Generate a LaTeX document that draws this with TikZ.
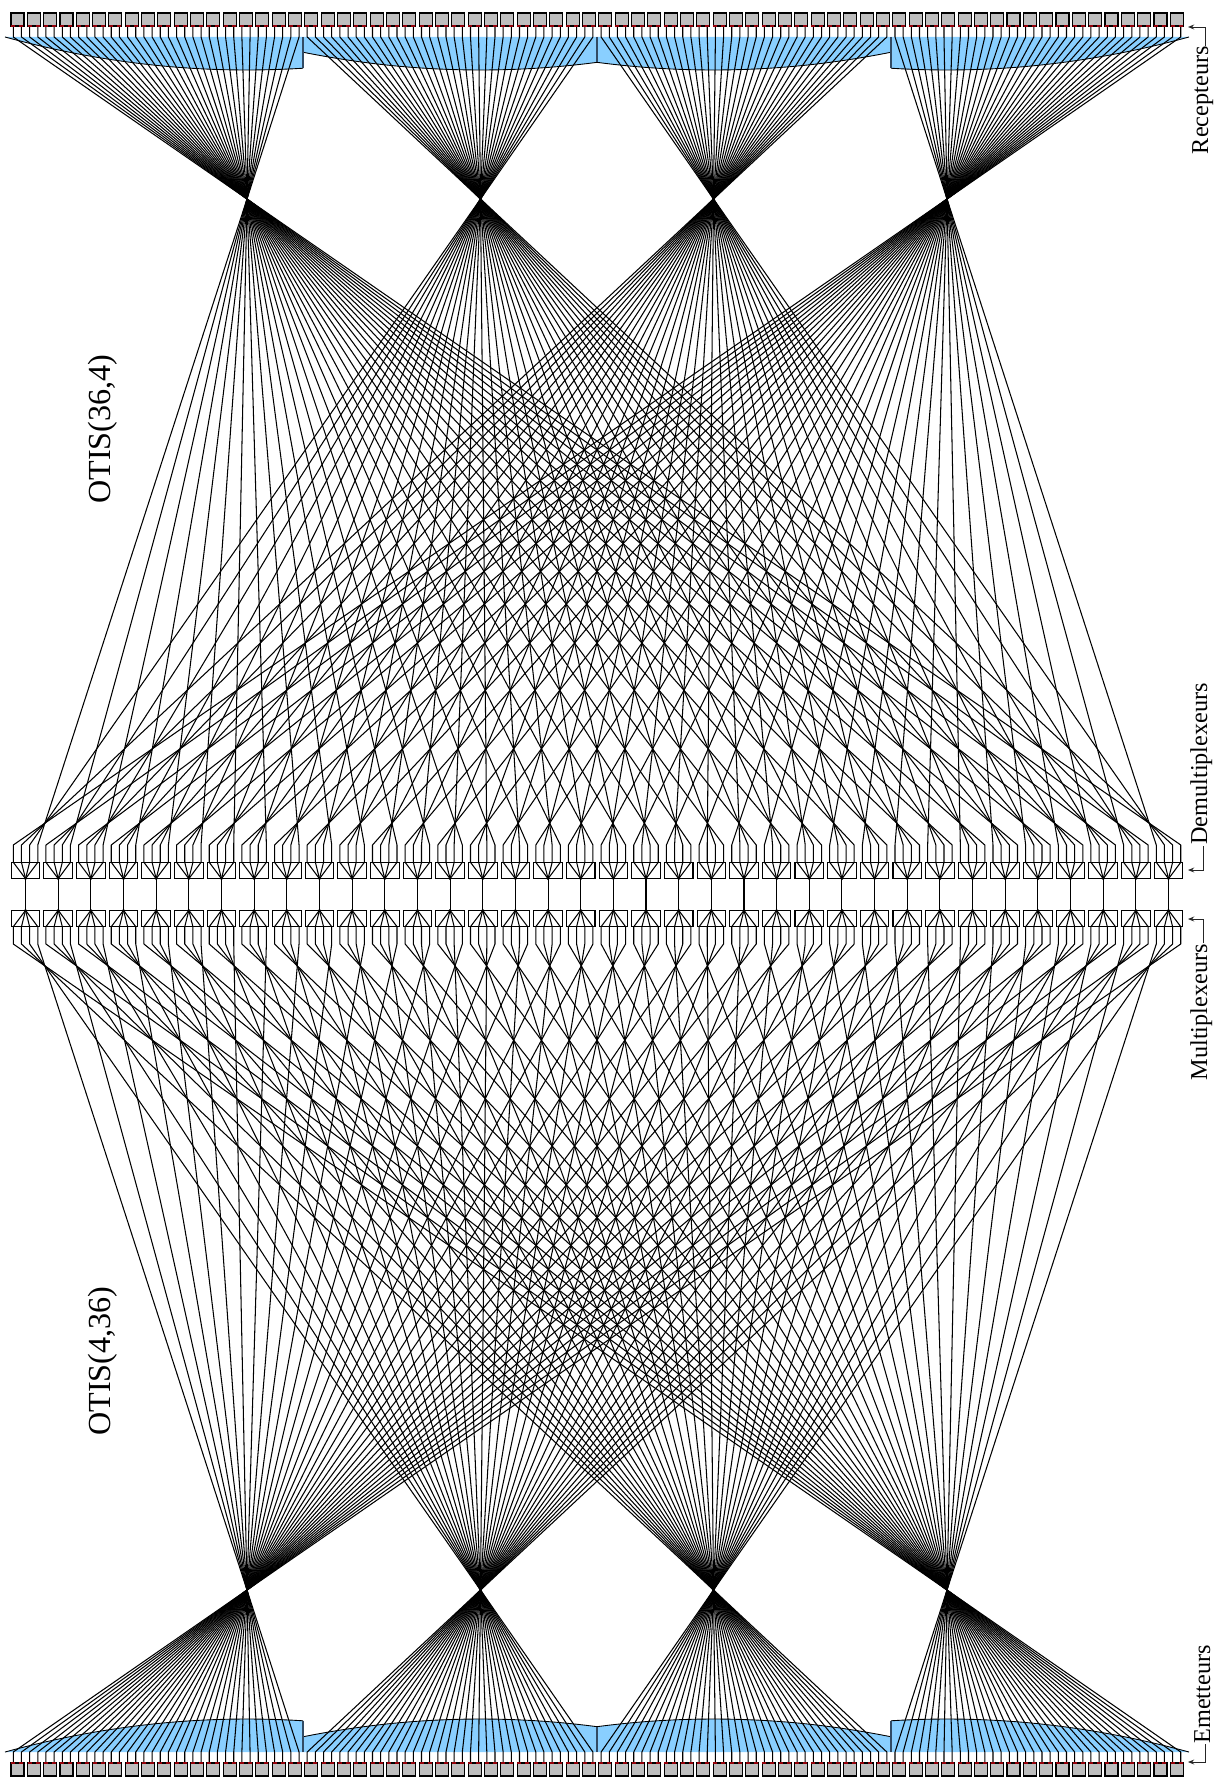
\documentclass[tikz,border=0pt]{standalone}
\usepackage{fontspec}
\setmainfont{Liberation Serif}
\usepackage{xcolor}
\usetikzlibrary{arrows.meta}
\definecolor{lensblue}{RGB}{137,207,255}
\definecolor{lensedge}{RGB}{50,75,100}
\definecolor{emitgray}{RGB}{190,190,190}
\definecolor{pinred}{RGB}{150,0,10}
\tikzset{
  fibre/.style={black,line width=0.6pt,line join=round},
  emitbox/.style={draw=black,fill=emitgray,line width=0.6pt},
  muxbox/.style={draw=black,line width=0.6pt},
  lensrim/.style={draw=black,line width=0.5pt},
  lensside/.style={lensedge,line width=0.8pt},
  bracket/.style={black!85,line width=0.55pt,-{Stealth[length=3.5pt,width=2.8pt]}},
  partname/.style={rotate=90,inner sep=0pt,font=\fontsize{13.8}{14}\selectfont},
  netname/.style={rotate=90,inner sep=0pt,font=\fontsize{18.3}{19}\selectfont}
}
\begin{document}
\begin{tikzpicture}[x=0.02cm,y=-0.02cm]
  \useasboundingbox (0,0) rectangle (1222,1777);
  % both halves are the same, the lower one is flipped
  \foreach \half in {0,1}{
    \begin{scope}[shift={(0,1789*\half)},yscale={1-2*\half}]
      % lenses
      \foreach \k/\fx/\xa/\xb in {0/247/5/303,1/480.5/303/597,2/713.5/597/891,3/947/891/1189}{
        \fill[lensblue] plot[domain=\xa:\xb,samples=30] (\x,{70-33*((\x-\fx)/242)^2}) -- (\xb,37) -- (\xa,37) -- cycle;
        \draw[lensrim] plot[domain=\xa:\xb,samples=30] (\x,{70-33*((\x-\fx)/242)^2});
      }
      \draw[lensside] (303,37) -- (303,68.5);
      \draw[lensside] (597,37) -- (597,62);
      \draw[lensside] (891,37) -- (891,68.5);
      % fibres through the focus points
      \foreach \k/\fx in {0/247,1/480.5,2/713.5,3/947}{
        \coordinate (focus\k) at (\fx,199);
        \foreach \n in {0,...,35}{
          \pgfmathsetmacro\pinx{13.3+8.164*(36*\k+\n)}
          \pgfmathsetmacro\muxx{13.3+8.164*(4*(35-\n)+3-\k)}
          \coordinate (pin) at (\pinx,37);
          \coordinate (muxpin) at (\muxx,845);
          \draw[fibre] (\pinx,26) -- (pin) -- (focus\k) -- (muxpin) -- (\muxx,862.3);
        }
      }
      % emitters
      \foreach \i in {0,...,71}{
        \pgfmathsetmacro\bx{17.5+16.328*\i}
        \draw[emitbox] (\bx-6.5,13) rectangle (\bx+6.5,26);
        \fill[pinred] (\bx-6.2,25) rectangle (\bx-2.2,27.2);
        \fill[pinred] (\bx+1.8,25) rectangle (\bx+5.8,27.2);
      }
      % multiplexers
      \foreach \i in {0,...,35}{
        \pgfmathsetmacro\cx{25.55+32.656*\i}
        \coordinate (apex) at (\cx,878.7);
        \draw[muxbox] (\cx-14.3,862.3) rectangle (\cx+14.3,878.7);
        \foreach \p in {-12.25,-4.08,4.08,12.25}{
          \draw[fibre] (\cx+\p,862.3) -- (apex);
        }
        \fill (apex) circle (1.4);
        \draw[fibre] (apex) -- (\cx,894.5);
      }
    \end{scope}
  }
  % labels
  \node[netname] (otisb) at (103,429) {OTIS(36,4)};
  \node[netname] (otisa) at (103,1361) {OTIS(4,36)};
  \node[partname,anchor=base east] (recv) at (1208,46) {Recepteurs};
  \node[partname,anchor=base west] (emit) at (1210,1744) {Emetteurs};
  \node[partname,anchor=base west] (demux) at (1207,845) {Demultiplexeurs};
  \node[partname,anchor=base east] (mux) at (1207,944) {Multiplexeurs};
  \coordinate (recvtip) at (1188,27);
  \coordinate (emittip) at (1188,1762);
  \coordinate (demuxtip) at (1188,870);
  \coordinate (muxtip) at (1188,919);
  \draw[bracket] (1205,46) |- (recvtip);
  \draw[bracket] (1205,1744) |- (emittip);
  \draw[bracket] (1203,846) |- (demuxtip);
  \draw[bracket] (1203,943) |- (muxtip);
\end{tikzpicture}
\end{document}
